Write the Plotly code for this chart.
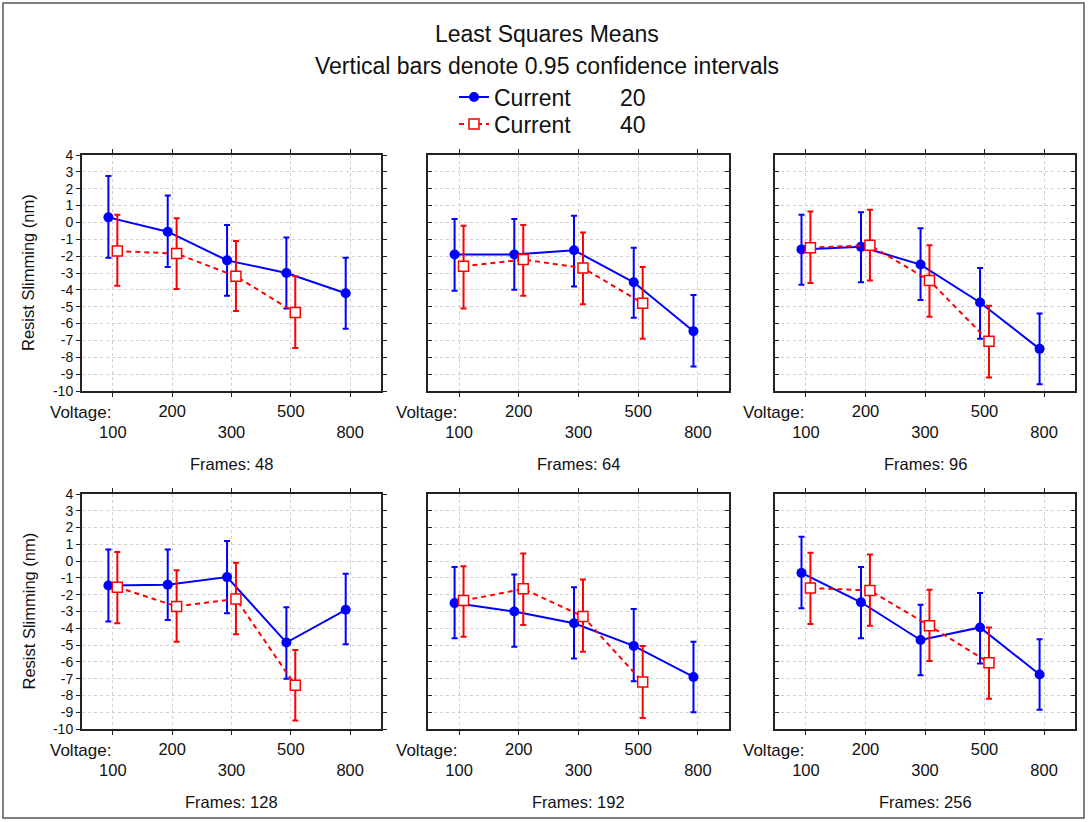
import plotly.graph_objects as go

# ---------------- data ----------------
voltage = ["100", "200", "300", "500", "800"]
frames = ["48", "64", "96", "128", "192", "256"]

# Current 20 (one row per Frames panel)
c20_mean = [
    [0.3, -0.55, -2.25, -3.0, -4.2],
    [-1.9, -1.9, -1.65, -3.55, -6.45],
    [-1.6, -1.45, -2.5, -4.75, -7.5],
    [-1.45, -1.4, -0.95, -4.85, -2.9],
    [-2.5, -3.0, -3.7, -5.05, -6.9],
    [-0.7, -2.45, -4.7, -3.95, -6.75],
]
c20_lo = [
    [-2.1, -2.65, -4.35, -5.1, -6.3],
    [-4.05, -4.0, -3.8, -5.65, -8.55],
    [-3.7, -3.55, -4.6, -6.9, -9.6],
    [-3.6, -3.5, -3.1, -7.0, -4.95],
    [-4.6, -5.1, -5.8, -7.15, -9.0],
    [-2.8, -4.6, -6.8, -6.1, -8.85],
]
c20_hi = [
    [2.75, 1.6, -0.15, -0.9, -2.1],
    [0.2, 0.2, 0.4, -1.5, -4.3],
    [0.45, 0.6, -0.35, -2.7, -5.4],
    [0.7, 0.7, 1.2, -2.75, -0.75],
    [-0.35, -0.8, -1.55, -2.85, -4.8],
    [1.45, -0.35, -2.6, -1.9, -4.65],
]
# Current 40 (no value at 800)
c40_mean = [
    [-1.7, -1.85, -3.2, -5.35, None],
    [-2.6, -2.2, -2.7, -4.8, None],
    [-1.5, -1.35, -3.45, -7.05, None],
    [-1.55, -2.7, -2.25, -7.4, None],
    [-2.35, -1.65, -3.3, -7.2, None],
    [-1.6, -1.75, -3.85, -6.05, None],
]
c40_lo = [
    [-3.75, -3.95, -5.25, -7.45, None],
    [-5.1, -4.35, -4.85, -6.9, None],
    [-3.6, -3.45, -5.6, -9.2, None],
    [-3.7, -4.8, -4.35, -9.5, None],
    [-4.5, -3.8, -5.4, -9.35, None],
    [-3.75, -3.85, -5.95, -8.2, None],
]
c40_hi = [
    [0.45, 0.25, -1.1, -3.2, None],
    [-0.2, -0.15, -0.6, -2.65, None],
    [0.65, 0.75, -1.35, -4.95, None],
    [0.55, -0.55, -0.1, -5.3, None],
    [-0.3, 0.45, -1.1, -5.05, None],
    [0.5, 0.4, -1.7, -3.95, None],
]
y_ticks = list(range(-10, 5))

# ---------------- layout geometry (pixels) ----------------
W, H = 1088, 822
FONT = "Liberation Sans, Arial, sans-serif"
cols_px = [(82, 381), (428, 729), (775, 1075)]
rows_px = [(155, 391), (494, 729)]
BLUE, RED = "#0000FF", "#FF0000"
GRID = "#cfcfcf"
TXT = "#111"


def fx(px):
    return px / W


def fy(py):
    return 1 - py / H


def errs(mean, lo, hi):
    plus = [None if m is None else h - m for m, h in zip(mean, hi)]
    minus = [None if m is None else m - l for m, l in zip(mean, lo)]
    return plus, minus


fig = go.Figure()
layout = dict(
    width=W, height=H,
    margin=dict(l=0, r=0, t=0, b=0),
    paper_bgcolor="white", plot_bgcolor="white",
    font=dict(family=FONT, color=TXT),
    showlegend=True,
)
annotations = []
n = len(voltage)
idx = list(range(n))
ticktext = [("<br>" + v) if i % 2 == 0 else (v + "<br> ") for i, v in enumerate(voltage)]
gap = "\u00a0" * 7 + "\u2009"

for k, fr in enumerate(frames):
    r, c = divmod(k, 3)
    ax = "" if k == 0 else str(k + 1)
    xa, ya = "x" + ax, "y" + ax
    x0, x1 = cols_px[c]
    y0, y1 = rows_px[r]
    first = c == 0

    p20, m20 = errs(c20_mean[k], c20_lo[k], c20_hi[k])
    p40, m40 = errs(c40_mean[k], c40_lo[k], c40_hi[k])
    fig.add_trace(go.Scatter(
        x=[i - 0.075 for i in idx], y=c20_mean[k], xaxis=xa, yaxis=ya,
        mode="lines+markers", name="Current" + gap + "20",
        legend="legend", showlegend=(k == 0),
        line=dict(color=BLUE, width=2),
        marker=dict(symbol="circle", size=10, color=BLUE),
        error_y=dict(type="data", array=p20, arrayminus=m20, color=BLUE,
                     thickness=2, width=3),
    ))
    fig.add_trace(go.Scatter(
        x=[i + 0.075 for i in idx], y=c40_mean[k], xaxis=xa, yaxis=ya,
        mode="lines+markers", name="Current" + gap + "40",
        legend="legend2", showlegend=(k == 0), connectgaps=False,
        line=dict(color=RED, width=2, dash="5px,4px"),
        marker=dict(symbol="square", size=10, color="white",
                    line=dict(color=RED, width=1.5)),
        error_y=dict(type="data", array=p40, arrayminus=m40, color=RED,
                     thickness=2, width=3),
    ))

    layout["xaxis" + ax] = dict(
        domain=[fx(x0), fx(x1)], anchor=ya, range=[-0.52, n - 1 + 0.52],
        tickmode="array", tickvals=idx, ticktext=ticktext,
        tickfont=dict(size=16.5, color=TXT),
        ticks="outside", ticklen=4, tickcolor="#222",
        showline=True, linewidth=2, linecolor="#222", mirror="ticks",
        showgrid=True, gridcolor=GRID, griddash="dot", gridwidth=1,
        zeroline=False, automargin=False, fixedrange=True,
    )
    layout["yaxis" + ax] = dict(
        domain=[fy(y1), fy(y0)], anchor=xa, range=[-10, 4],
        tickmode="array", tickvals=y_ticks, ticktext=[str(t) for t in y_ticks],
        showticklabels=first, tickfont=dict(size=14, color=TXT),
        ticks="outside" if first else "inside", ticklen=4, tickcolor="#222",
        showline=True, linewidth=2, linecolor="#222", mirror="ticks",
        showgrid=True, gridcolor=GRID, griddash="dot", gridwidth=1,
        zeroline=False, automargin=False, fixedrange=True,
    )

    # "Voltage:" label left of first category
    annotations.append(dict(
        xref=xa, yref="paper", x=0, y=fy(y1 + 21), xanchor="right", yanchor="middle",
        text="Voltage:", showarrow=False, font=dict(size=17, color=TXT),
    ))
    # Frames label
    annotations.append(dict(
        xref="paper", yref="paper", x=fx((x0 + x1) / 2), y=fy(y1 + 73),
        xanchor="center", yanchor="middle", text="Frames: " + fr,
        showarrow=False, font=dict(size=16.5, color=TXT),
    ))
    if first:
        annotations.append(dict(
            xref="paper", yref="paper", x=fx(28), y=fy((y0 + y1) / 2),
            xanchor="center", yanchor="middle", textangle=-90,
            text="Resist Slimming (nm)", showarrow=False,
            font=dict(size=16.5, color=TXT),
        ))

annotations.append(dict(
    xref="paper", yref="paper", x=fx(547), y=fy(34), xanchor="center", yanchor="middle",
    text="Least Squares Means", showarrow=False, font=dict(size=23, color=TXT),
))
annotations.append(dict(
    xref="paper", yref="paper", x=fx(547), y=fy(66), xanchor="center", yanchor="middle",
    text="Vertical bars denote 0.95 confidence intervals", showarrow=False,
    font=dict(size=23, color=TXT),
))
layout["annotations"] = annotations
for name, ypx in (("legend", 97), ("legend2", 124)):
    layout[name] = dict(
        x=fx(454), y=fy(ypx), xanchor="left", yanchor="middle",
        font=dict(size=23, color=TXT), bgcolor="rgba(0,0,0,0)",
        itemwidth=30,
    )
layout["shapes"] = [dict(
    type="rect", xref="paper", yref="paper", x0=fx(3), x1=fx(1084), y0=fy(818), y1=fy(3),
    line=dict(color="#555", width=1.5), fillcolor="rgba(0,0,0,0)",
)]
fig.update_layout(**layout)
fig.write_html("out.html")
